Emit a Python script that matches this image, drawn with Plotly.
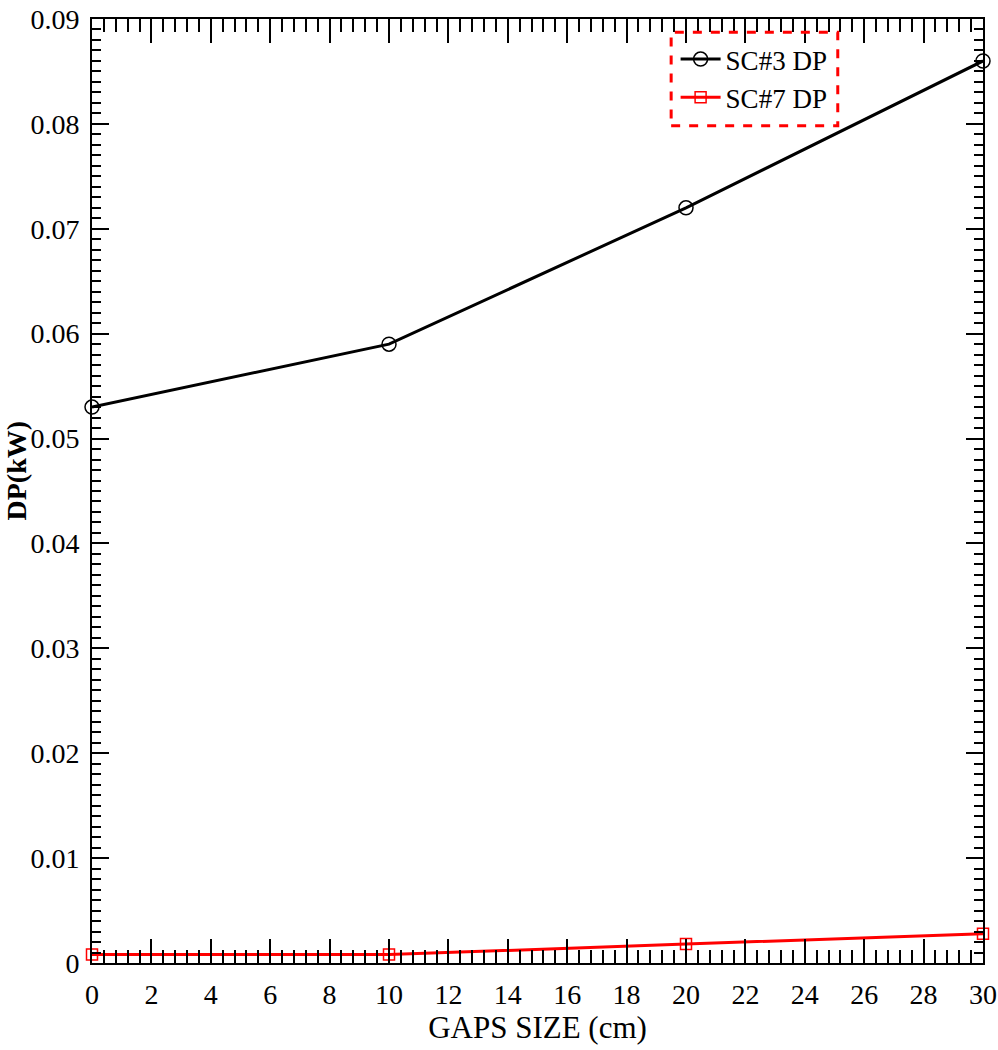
import plotly.graph_objects as go

gap_size = [0, 10, 20, 30]
sc3_dp = [0.053, 0.059, 0.072, 0.086]
sc7_dp = [0.0008, 0.0008, 0.0018, 0.0028]
x_ticks = list(range(0, 31, 2))
x_ticktext = [str(v) for v in x_ticks]
y_ticks = [0, 0.01, 0.02, 0.03, 0.04, 0.05, 0.06, 0.07, 0.08, 0.09]
y_ticktext = ["0", "0.01", "0.02", "0.03", "0.04", "0.05", "0.06", "0.07", "0.08", "0.09"]

FONT = "Liberation Serif"

fig = go.Figure()
fig.add_trace(go.Scatter(
    x=gap_size, y=sc3_dp, name="SC#3 DP", mode="lines+markers",
    line=dict(color="black", width=3),
    marker=dict(symbol="circle-open", size=14, color="black", line=dict(width=1.5)),
    cliponaxis=False,
))
fig.add_trace(go.Scatter(
    x=gap_size, y=sc7_dp, name="SC#7 DP", mode="lines+markers",
    line=dict(color="red", width=3),
    marker=dict(symbol="square-open", size=11, color="red", line=dict(width=1.5)),
    cliponaxis=False,
))

fig.update_layout(
    width=998, height=1050,
    margin=dict(l=92, r=15, t=19, b=87),
    font=dict(family=FONT, color="black", size=28),
    plot_bgcolor="white", paper_bgcolor="white",
    xaxis=dict(
        range=[0, 30], tickmode="array", tickvals=x_ticks, ticktext=x_ticktext,
        ticklen=24, tickwidth=2,
        showline=True, linecolor="black", linewidth=2, mirror="allticks",
        ticks="inside", tickcolor="black", showgrid=False, zeroline=False,
        automargin=False, ticklabelstandoff=5,
        tickfont=dict(family=FONT, size=28, color="black"),
        minor=dict(dtick=0.4, ticks="inside", ticklen=13, tickwidth=2, tickcolor="black", showgrid=False),
        title=dict(text="GAPS SIZE (cm)", font=dict(family=FONT, size=31, color="black"), standoff=6),
    ),
    yaxis=dict(
        range=[0, 0.09], tickmode="array", tickvals=y_ticks, ticktext=y_ticktext,
        ticklen=17, tickwidth=2,
        showline=True, linecolor="black", linewidth=2, mirror="allticks",
        ticks="inside", tickcolor="black", showgrid=False, zeroline=False,
        automargin=False, ticklabelstandoff=5,
        tickfont=dict(family=FONT, size=28, color="black"),
        minor=dict(dtick=0.001, ticks="inside", ticklen=9, tickwidth=2, tickcolor="black", showgrid=False),
    ),
    annotations=[dict(
        text="<b>DP(kW)</b>", xref="paper", yref="paper",
        x=-0.085, y=0.522, xanchor="center", yanchor="middle",
        textangle=-90, showarrow=False,
        font=dict(family=FONT, size=28, color="black"),
    )],
    legend=dict(
        x=0.655, y=0.983, xanchor="left", yanchor="top",
        font=dict(family=FONT, size=27, color="black"),
        bgcolor="rgba(0,0,0,0)", borderwidth=0, itemwidth=40,
        tracegroupgap=0,
    ),
    shapes=[dict(
        type="rect", xref="paper", yref="paper",
        x0=0.650, x1=0.837, y0=0.887, y1=0.986,
        line=dict(color="red", width=3, dash="dash"),
    )],
)

fig.write_html("out.html")
